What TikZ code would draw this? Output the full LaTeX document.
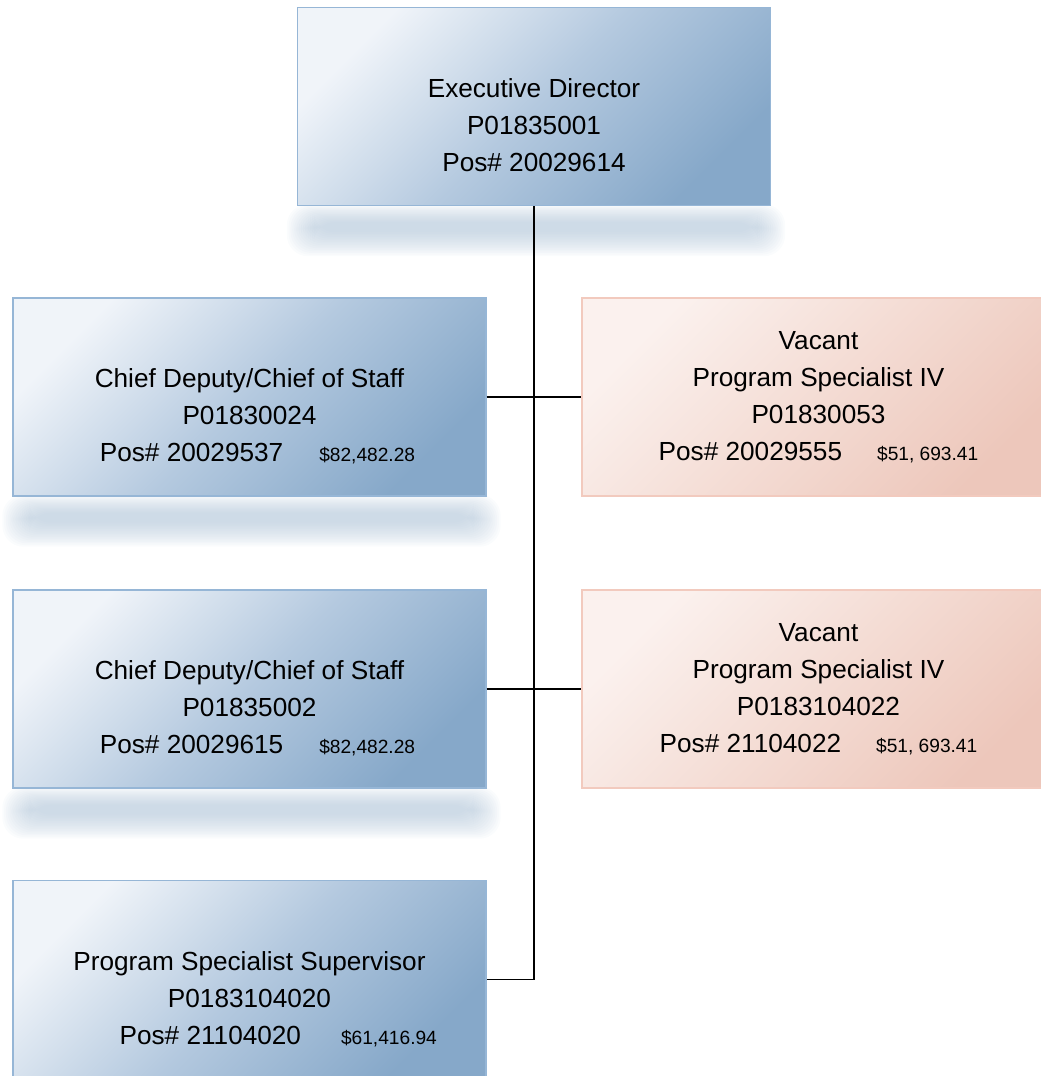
\documentclass[tikz,border=0pt]{standalone}
\usepackage{fontspec}
\setmainfont{Liberation Sans}
\usetikzlibrary{backgrounds,
	calc,
	shapes}

\definecolor{bluelight}{RGB}{240,244,249}
\definecolor{bluemid}{RGB}{180,201,223}
\definecolor{bluedark}{RGB}{134,168,201}
\definecolor{blueline}{RGB}{150,182,214}
\definecolor{pinklight}{RGB}{251,241,238}
\definecolor{pinkmid}{RGB}{244,220,212}
\definecolor{pinkdark}{RGB}{237,199,187}
\definecolor{pinkline}{RGB}{242,202,190}
\definecolor{shadowblue}{RGB}{173,194,214}

\newcommand{\pay}[1]{{\fontsize{10.9}{13}\selectfont\$#1}}

\begin{document}
\begin{tikzpicture}[x=0.02cm,y=-0.02cm]
    \tikzstyle{post}=[rectangle,minimum width=9.46cm,minimum height=3.96cm,inner sep=0pt,
      align=center,font=\fontsize{14.9}{21}\selectfont,line width=0.8pt]
    \tikzstyle{filled}=[post,draw=blueline,top color=bluelight,bottom color=bluedark,middle color=bluemid,shading angle=45]
    \tikzstyle{vacant}=[post,draw=pinkline,top color=pinklight,bottom color=pinkdark,middle color=pinkmid,shading angle=45]
    \tikzstyle{link}=[line width=1.1pt,black]
    \useasboundingbox (0,0) rectangle (1041,1076);
    \node[filled] (exec) at (534,106.5) {\strut\\[-0.14cm]Executive Director\\P01835001\\Pos\# 20029614};
    \node[filled] (deputy_1) at (249.5,397) {\strut\\[-0.12cm]Chief Deputy/Chief of Staff\\P01830024\\\hspace*{0.32cm}Pos\# 20029537\hspace{0.72cm}\pay{82,482.28}};
    \node[filled] (deputy_2) at (249.5,689) {\strut\\[-0.12cm]Chief Deputy/Chief of Staff\\P01835002\\\hspace*{0.32cm}Pos\# 20029615\hspace{0.72cm}\pay{82,482.28}};
    \node[filled] (super) at (249.5,979.5) {\strut\\[-0.08cm]Program Specialist Supervisor\\P0183104020\\\hspace*{1.15cm}Pos\# 21104020\hspace{0.8cm}\pay{61,416.94}};
    \node[vacant] (spec_1) at (818.5,397) {Vacant\\Program Specialist IV\\P01830053\\Pos\# 20029555\hspace{0.7cm}\pay{51, 693.41}};
    \node[vacant] (spec_2) at (818.5,689) {Vacant\\Program Specialist IV\\P0183104022\\Pos\# 21104022\hspace{0.7cm}\pay{51, 693.41}};
    \begin{scope}[on background layer]
      \foreach \b in {exec,deputy_1,deputy_2}
        \foreach \k in {0,...,15}
          \fill[shadowblue,opacity=0.055,rounded corners=12pt]
            ($(\b.south west)+(-10+1.8*\k,-2+1.2*\k)$) rectangle ($(\b.south east)+(14-1.8*\k,50-1.6*\k)$);
    \end{scope}
    \draw[link] (exec.south) |- (super.east);
    \draw[link] (deputy_1.east) -- (spec_1.west);
    \draw[link] (deputy_2.east) -- (spec_2.west);
\end{tikzpicture}
\end{document}
